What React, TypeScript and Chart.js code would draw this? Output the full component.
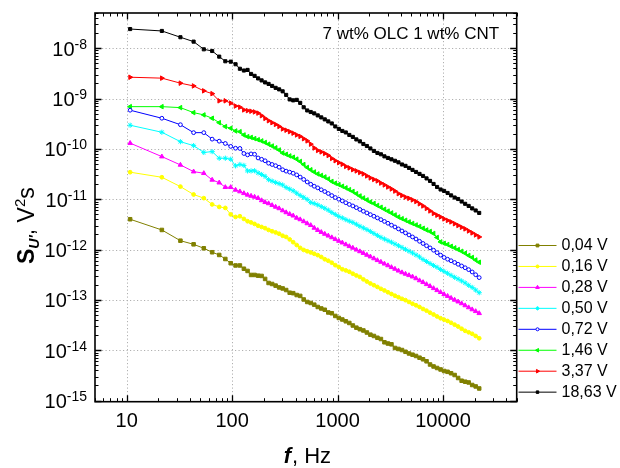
import { useEffect, useRef } from 'react';
import { Chart, registerables } from 'chart.js';
import { drawPoint } from 'chart.js/helpers';

Chart.register(...registerables);

const FONT = '"Liberation Sans", Arial, Helvetica, sans-serif';

// Frequencies, Hz
const frequencies = [
  10.77, 21.53, 32.3, 43.07, 53.83, 64.6, 75.37, 86.13, 96.9, 107.7, 118.4, 129.2, 140,
  151.1, 163.2, 176.2, 190.2, 205.4, 221.6, 239.3, 258.4, 279, 301.2, 325.3, 351.2, 379.2,
  409.4, 442, 477.1, 515.1, 556.2, 600.5, 648.4, 700.1, 755.8, 816, 881, 951.2, 1027, 1109,
  1197, 1292, 1395, 1507, 1627, 1756, 1896, 2047, 2210, 2386, 2576, 2782, 3003, 3243, 3501,
  3780, 4081, 4407, 4757, 5136, 5546, 5987, 6464, 6980, 7535, 8136, 8784, 9484, 10240, 11050,
  11930, 12890, 13910, 15020, 16220, 17510, 18910, 20410, 22040,
];

const s_0_04 = [
  4.0e-12, 2.45e-12, 1.5e-12, 1.27e-12, 1.06e-12, 8.84e-13, 7.81e-13, 6.5e-13, 5.35e-13, 4.83e-13, 4.83e-13, 4.16e-13, 3.76e-13,
  3.13e-13, 3.13e-13, 3.03e-13, 2.99e-13, 2.61e-13, 2.17e-13, 2.07e-13, 1.92e-13, 1.77e-13, 1.69e-13, 1.57e-13, 1.39e-13, 1.36e-13,
  1.25e-13, 1.2e-13, 1.02e-13, 9.1e-14, 8.69e-14, 8.04e-14, 7.24e-14, 6.76e-14, 6.37e-14, 5.63e-14, 5.43e-14, 4.8e-14, 4.38e-14,
  4.08e-14, 3.76e-14, 3.48e-14, 3.1e-14, 2.81e-14, 2.62e-14, 2.47e-14, 2.25e-14, 2.04e-14, 1.92e-14, 1.77e-14, 1.67e-14, 1.44e-14,
  1.36e-14, 1.31e-14, 1.11e-14, 1.06e-14, 1.01e-14, 9.32e-15, 8.63e-15, 8.16e-15, 7.69e-15, 7.11e-15, 6.61e-15, 6.03e-15, 5.21e-15,
  4.76e-15, 4.44e-15, 4.15e-15, 3.87e-15, 3.73e-15, 3.49e-15, 3.22e-15, 2.81e-15, 2.48e-15, 2.37e-15, 2.29e-15, 2.04e-15, 1.91e-15, 1.74e-15,
];

const s_0_16 = [
  3.44e-11, 2.73e-11, 1.78e-11, 1.24e-11, 1.05e-11, 7.88e-12, 7.03e-12, 6.71e-12, 4.99e-12, 4.44e-12, 4.59e-12, 4.06e-12, 3.65e-12,
  3.46e-12, 3.23e-12, 2.97e-12, 2.81e-12, 2.66e-12, 2.45e-12, 2.31e-12, 2.19e-12, 2.06e-12, 1.88e-12, 1.78e-12, 1.59e-12, 1.4e-12,
  1.23e-12, 1.08e-12, 9.82e-13, 9.25e-13, 8.75e-13, 8.25e-13, 7.74e-13, 7.13e-13, 6.42e-13, 5.99e-13, 5.47e-13, 4.9e-13, 4.51e-13,
  4.06e-13, 3.85e-13, 3.62e-13, 3.31e-13, 3.06e-13, 2.86e-13, 2.56e-13, 2.32e-13, 2.12e-13, 1.96e-13, 1.81e-13, 1.66e-13, 1.54e-13,
  1.42e-13, 1.31e-13, 1.21e-13, 1.13e-13, 1.05e-13, 9.88e-14, 9.1e-14, 8.38e-14, 7.82e-14, 7.23e-14, 6.6e-14, 6.11e-14, 5.57e-14,
  5.13e-14, 4.69e-14, 4.32e-14, 4.05e-14, 3.81e-14, 3.51e-14, 3.22e-14, 2.96e-14, 2.67e-14, 2.43e-14, 2.27e-14, 2.12e-14, 1.92e-14, 1.73e-14,
];

const s_0_28 = [
  1.3e-10, 7.02e-11, 4.8e-11, 3.53e-11, 3.28e-11, 2.42e-11, 2.13e-11, 1.73e-11, 1.73e-11, 1.53e-11, 1.42e-11, 1.31e-11, 1.22e-11,
  1.16e-11, 1.11e-11, 1.05e-11, 9.46e-12, 8.71e-12, 8.24e-12, 7.59e-12, 7.03e-12, 6.56e-12, 5.96e-12, 5.46e-12, 5.06e-12, 4.7e-12,
  4.25e-12, 3.96e-12, 3.62e-12, 3.3e-12, 3.04e-12, 2.69e-12, 2.43e-12, 2.22e-12, 2.04e-12, 1.88e-12, 1.74e-12, 1.6e-12, 1.48e-12,
  1.37e-12, 1.26e-12, 1.16e-12, 1.08e-12, 9.91e-13, 9.17e-13, 8.49e-13, 7.81e-13, 7.23e-13, 6.65e-13, 6.12e-13, 5.67e-13, 5.22e-13,
  4.83e-13, 4.45e-13, 4.12e-13, 3.79e-13, 3.51e-13, 3.28e-13, 3.08e-13, 2.89e-13, 2.67e-13, 2.43e-13, 2.24e-13, 2.04e-13, 1.87e-13,
  1.7e-13, 1.55e-13, 1.42e-13, 1.29e-13, 1.19e-13, 1.09e-13, 1.0e-13, 9.22e-14, 8.49e-14, 7.75e-14, 7.07e-14, 6.45e-14, 5.94e-14, 5.42e-14,
];

const s_0_50 = [
  2.95e-10, 2.14e-10, 1.39e-10, 1.16e-10, 8.5e-11, 8.82e-11, 6.52e-11, 6.52e-11, 6.23e-11, 4.6e-11, 4.9e-11, 4.69e-11, 3.65e-11,
  3.65e-11, 3.68e-11, 3.33e-11, 3.1e-11, 2.84e-11, 2.45e-11, 2.29e-11, 2.15e-11, 2.04e-11, 1.92e-11, 1.71e-11, 1.59e-11, 1.47e-11,
  1.32e-11, 1.19e-11, 1.09e-11, 9.9e-12, 8.63e-12, 8.24e-12, 7.7e-12, 7.12e-12, 6.62e-12, 6.07e-12, 5.46e-12, 4.99e-12, 4.55e-12,
  4.25e-12, 3.93e-12, 3.67e-12, 3.46e-12, 3.18e-12, 2.9e-12, 2.69e-12, 2.49e-12, 2.29e-12, 2.09e-12, 1.91e-12, 1.75e-12, 1.62e-12,
  1.5e-12, 1.4e-12, 1.29e-12, 1.19e-12, 1.1e-12, 1.01e-12, 9.3e-13, 8.56e-13, 7.81e-13, 7.13e-13, 6.35e-13, 5.8e-13, 5.29e-13,
  4.83e-13, 4.45e-13, 4.02e-13, 3.67e-13, 3.38e-13, 3.08e-13, 2.81e-13, 2.6e-13, 2.38e-13, 2.17e-13, 1.95e-13, 1.77e-13, 1.57e-13, 1.39e-13,
];

const s_0_72 = [
  5.86e-10, 4.06e-10, 3.02e-10, 2.1e-10, 2.1e-10, 1.56e-10, 1.42e-10, 1.28e-10, 1.12e-10, 1.03e-10, 1.02e-10, 8.1e-11, 7.59e-11,
  7.94e-11, 7.8e-11, 6.6e-11, 6.2e-11, 5.8e-11, 5.19e-11, 4.9e-11, 4.63e-11, 4.32e-11, 3.85e-11, 3.61e-11, 3.45e-11, 3.28e-11,
  3.04e-11, 2.75e-11, 2.47e-11, 2.2e-11, 1.98e-11, 1.81e-11, 1.68e-11, 1.54e-11, 1.42e-11, 1.3e-11, 1.18e-11, 1.08e-11, 1.0e-11,
  9.25e-12, 8.51e-12, 7.88e-12, 7.35e-12, 6.8e-12, 6.26e-12, 5.77e-12, 5.34e-12, 4.94e-12, 4.59e-12, 4.25e-12, 3.93e-12, 3.62e-12,
  3.33e-12, 3.05e-12, 2.81e-12, 2.57e-12, 2.34e-12, 2.14e-12, 1.95e-12, 1.78e-12, 1.62e-12, 1.46e-12, 1.32e-12, 1.19e-12, 1.08e-12,
  9.7e-13, 8.68e-13, 7.74e-13, 6.97e-13, 6.42e-13, 5.99e-13, 5.54e-13, 5.1e-13, 4.72e-13, 4.35e-13, 3.99e-13, 3.59e-13, 3.16e-13, 2.77e-13,
];

const s_1_46 = [
  6.9e-10, 6.9e-10, 6.6e-10, 5.25e-10, 4.73e-10, 4.06e-10, 3.32e-10, 2.77e-10, 2.57e-10, 2.27e-10, 2.2e-10, 1.89e-10, 1.75e-10,
  1.69e-10, 1.6e-10, 1.52e-10, 1.44e-10, 1.34e-10, 1.24e-10, 1.14e-10, 1.05e-10, 9.5e-11, 8.3e-11, 7.8e-11, 7.25e-11, 6.83e-11,
  6.26e-11, 5.63e-11, 4.9e-11, 4.28e-11, 3.85e-11, 3.48e-11, 3.18e-11, 2.97e-11, 2.77e-11, 2.53e-11, 2.26e-11, 2.08e-11, 1.95e-11,
  1.81e-11, 1.68e-11, 1.55e-11, 1.43e-11, 1.29e-11, 1.16e-11, 1.06e-11, 9.7e-12, 8.83e-12, 8.24e-12, 7.52e-12, 6.93e-12, 6.32e-12,
  5.8e-12, 5.34e-12, 4.87e-12, 4.44e-12, 4.11e-12, 3.82e-12, 3.54e-12, 3.3e-12, 3.08e-12, 2.88e-12, 2.65e-12, 2.45e-12, 2.29e-12,
  2.09e-12, 1.74e-12, 1.42e-12, 1.33e-12, 1.26e-12, 1.16e-12, 1.08e-12, 1.0e-12, 9.25e-13, 8.45e-13, 7.64e-13, 6.97e-13, 6.21e-13, 5.6e-13,
];

const s_3_37 = [
  2.65e-9, 2.54e-9, 2.02e-9, 1.78e-9, 1.42e-9, 1.25e-9, 9.0e-10, 9.0e-10, 8.1e-10, 7.1e-10, 6.73e-10, 5.94e-10, 5.75e-10,
  5.6e-10, 5.42e-10, 5.13e-10, 4.56e-10, 4.03e-10, 3.62e-10, 3.32e-10, 3.06e-10, 2.79e-10, 2.49e-10, 2.35e-10, 2.2e-10, 2.05e-10,
  1.89e-10, 1.77e-10, 1.59e-10, 1.44e-10, 1.24e-10, 1.04e-10, 9.3e-11, 8.7e-11, 8.1e-11, 7.4e-11, 6.46e-11, 5.82e-11, 5.33e-11,
  4.95e-11, 4.48e-11, 4.19e-11, 3.87e-11, 3.65e-11, 3.4e-11, 3.18e-11, 2.9e-11, 2.65e-11, 2.47e-11, 2.31e-11, 2.09e-11, 1.92e-11,
  1.75e-11, 1.6e-11, 1.45e-11, 1.29e-11, 1.19e-11, 1.1e-11, 1.04e-11, 9.7e-12, 9.0e-12, 8.1e-12, 7.35e-12, 6.56e-12, 5.85e-12,
  5.22e-12, 4.81e-12, 4.44e-12, 4.06e-12, 3.79e-12, 3.54e-12, 3.26e-12, 3.01e-12, 2.77e-12, 2.57e-12, 2.34e-12, 2.14e-12, 1.95e-12, 1.78e-12,
];

const s_18_63 = [
  2.4e-8, 2.2e-8, 1.65e-8, 1.35e-8, 9.5e-9, 8.8e-9, 6.8e-9, 5.5e-9, 5.4e-9, 4.8e-9, 3.9e-9, 3.6e-9, 3.7e-9,
  3.08e-9, 2.82e-9, 2.51e-9, 2.29e-9, 2.09e-9, 1.95e-9, 1.78e-9, 1.63e-9, 1.52e-9, 1.39e-9, 1.18e-9, 9.6e-10, 9.2e-10,
  9.4e-10, 8.2e-10, 6.7e-10, 5.8e-10, 5.4e-10, 5.06e-10, 4.62e-10, 4.22e-10, 3.85e-10, 3.51e-10, 3.2e-10, 2.79e-10, 2.49e-10,
  2.27e-10, 2.12e-10, 1.89e-10, 1.73e-10, 1.54e-10, 1.41e-10, 1.25e-10, 1.14e-10, 1.02e-10, 9.1e-11, 8.3e-11, 7.8e-11, 7.1e-11,
  6.6e-11, 6.2e-11, 5.8e-11, 5.4e-11, 4.9e-11, 4.6e-11, 4.19e-11, 3.82e-11, 3.48e-11, 3.18e-11, 2.9e-11, 2.59e-11, 2.31e-11,
  2.01e-11, 1.75e-11, 1.56e-11, 1.46e-11, 1.33e-11, 1.19e-11, 1.08e-11, 1.01e-11, 9.0e-12, 8.1e-12, 7.35e-12, 6.56e-12, 5.98e-12, 5.34e-12,
];

const seriesLabels = ['0,04 V', '0,16 V', '0,28 V', '0,50 V', '0,72 V', '1,46 V', '3,37 V', '18,63 V'];
const seriesValues = [s_0_04, s_0_16, s_0_28, s_0_50, s_0_72, s_1_46, s_3_37, s_18_63];

const xTickValues = [10, 100, 1000, 10000];
const xTickLabels = ['10', '100', '1000', '10000'];
const yTickValues = [1e-8, 1e-9, 1e-10, 1e-11, 1e-12, 1e-13, 1e-14, 1e-15];
const yTickExponents = ['-8', '-9', '-10', '-11', '-12', '-13', '-14', '-15'];
const chartTitle = '7 wt% OLC 1 wt% CNT';

const X_MIN = 5;
const X_MAX = 50000;
const Y_MIN = 9.5e-16;
const Y_MAX = 5e-8;

type Sty = { color: string; fill: string; pointStyle: string; radius: number; rotation: number };
const STYLES: Sty[] = [
  { color: '#808000', fill: '#808000', pointStyle: 'rect', radius: 2.5, rotation: 0 },
  { color: '#ffff00', fill: '#ffff00', pointStyle: 'circle', radius: 1.9, rotation: 0 },
  { color: '#ff00ff', fill: '#ff00ff', pointStyle: 'triangle', radius: 2.6, rotation: 0 },
  { color: '#00ffff', fill: '#00ffff', pointStyle: 'star', radius: 2.6, rotation: 0 },
  { color: '#0000ff', fill: '#ffffff', pointStyle: 'circle', radius: 1.9, rotation: 0 },
  { color: '#00ff00', fill: '#00ff00', pointStyle: 'triangle', radius: 2.6, rotation: -90 },
  { color: '#ff0000', fill: '#ff0000', pointStyle: 'triangle', radius: 2.6, rotation: 90 },
  { color: '#000000', fill: '#000000', pointStyle: 'rect', radius: 2.2, rotation: 0 },
];

function minorValues(minExp: number, maxExp: number, lo: number, hi: number) {
  const out: number[] = [];
  for (let e = minExp; e <= maxExp; e++) {
    for (let m = 2; m <= 9; m++) {
      const v = m * Math.pow(10, e);
      if (v >= lo * 0.9999 && v <= hi * 1.0001) out.push(v);
    }
  }
  return out;
}

const decorPlugin = {
  id: 'decor',
  beforeDatasetsDraw(chart: any) {
    const { ctx, chartArea: a } = chart;
    const xs = chart.scales.x;
    const ys = chart.scales.y;
    ctx.save();
    ctx.strokeStyle = '#b0b0b0';
    ctx.lineWidth = 1;
    ctx.setLineDash([1.2, 2.3]);
    ctx.beginPath();
    xTickValues.forEach((v) => {
      const p = Math.round(xs.getPixelForValue(v)) + 0.5;
      ctx.moveTo(p, a.top);
      ctx.lineTo(p, a.bottom);
    });
    yTickValues.forEach((v) => {
      const p = Math.round(ys.getPixelForValue(v)) + 0.5;
      ctx.moveTo(a.left, p);
      ctx.lineTo(a.right, p);
    });
    ctx.stroke();
    ctx.restore();
  },
  afterDraw(chart: any) {
    const { ctx, chartArea: a } = chart;
    const xs = chart.scales.x;
    const ys = chart.scales.y;
    ctx.save();
    ctx.setLineDash([]);
    ctx.strokeStyle = '#000';
    ctx.fillStyle = '#000';

    // ticks (inward on all sides)
    ctx.lineWidth = 1;
    ctx.beginPath();
    const xMinor = minorValues(0, 4, X_MIN, X_MAX);
    const yMinor = minorValues(-16, -8, Y_MIN, Y_MAX);
    const tickX = (v: number, len: number) => {
      const p = Math.round(xs.getPixelForValue(v)) + 0.5;
      ctx.moveTo(p, a.bottom);
      ctx.lineTo(p, a.bottom - len);
      ctx.moveTo(p, a.top);
      ctx.lineTo(p, a.top + len);
    };
    const tickY = (v: number, len: number) => {
      const p = Math.round(ys.getPixelForValue(v)) + 0.5;
      ctx.moveTo(a.left, p);
      ctx.lineTo(a.left + len, p);
      ctx.moveTo(a.right, p);
      ctx.lineTo(a.right - len, p);
    };
    xMinor.forEach((v) => tickX(v, 3.5));
    yMinor.forEach((v) => tickY(v, 3.5));
    ctx.stroke();
    ctx.lineWidth = 1.3;
    ctx.beginPath();
    xTickValues.forEach((v) => tickX(v, 6.5));
    yTickValues.forEach((v) => tickY(v, 6.5));
    ctx.stroke();

    // frame
    ctx.lineWidth = 1.6;
    ctx.strokeRect(a.left, a.top, a.right - a.left, a.bottom - a.top);

    // x tick labels
    ctx.font = `20px ${FONT}`;
    ctx.textAlign = 'center';
    ctx.textBaseline = 'alphabetic';
    xTickValues.forEach((v, i) => {
      ctx.fillText(xTickLabels[i], xs.getPixelForValue(v), a.bottom + 25.5);
    });

    // y tick labels: 10 with superscript exponent
    ctx.textAlign = 'left';
    yTickValues.forEach((v, i) => {
      const p = ys.getPixelForValue(v);
      ctx.font = `14px ${FONT}`;
      const w2 = ctx.measureText(yTickExponents[i]).width;
      ctx.font = `20px ${FONT}`;
      const w1 = ctx.measureText('10').width;
      const right = a.left - 8;
      ctx.fillText('10', right - w2 - w1, p + 7.5);
      ctx.font = `14px ${FONT}`;
      ctx.fillText(yTickExponents[i], right - w2, p + 0.5);
    });

    // inner title
    ctx.font = `17px ${FONT}`;
    ctx.textAlign = 'left';
    ctx.fillText(chartTitle, 322.5, 38.5);

    // x axis title: f, Hz
    {
      ctx.font = `italic bold 22px ${FONT}`;
      const wf = ctx.measureText('f').width;
      ctx.font = `22px ${FONT}`;
      const wr = ctx.measureText(', Hz').width;
      const cx = (a.left + a.right) / 2 + 1;
      const start = cx - (wf + wr) / 2;
      ctx.font = `italic bold 22px ${FONT}`;
      ctx.fillText('f', start, 463);
      ctx.font = `22px ${FONT}`;
      ctx.fillText(', Hz', start + wf + 1, 463);
    }

    // y axis title: S_U', V^2s (rotated)
    {
      ctx.save();
      ctx.translate(33.5, 264);
      ctx.rotate(-Math.PI / 2);
      let x = 0;
      const put = (t: string, font: string, dy: number) => {
        ctx.font = font;
        ctx.fillText(t, x, dy);
        x += ctx.measureText(t).width;
      };
      put('S', `bold 23px ${FONT}`, 0);
      put("U'", `italic bold 14px ${FONT}`, 5);
      put(', V', `23px ${FONT}`, 0);
      put('2', `15px ${FONT}`, -9);
      put('s', `23px ${FONT}`, 0);
      ctx.restore();
    }

    // legend
    const lx0 = 518.5;
    const lx1 = 556.5;
    const ly0 = 245;
    const lstep = 20.95;
    seriesLabels.forEach((lab, i) => {
      const st = STYLES[i];
      const y = ly0 + i * lstep;
      ctx.setLineDash([]);
      ctx.strokeStyle = st.color;
      ctx.lineWidth = 1;
      ctx.beginPath();
      ctx.moveTo(lx0, y + 0.5);
      ctx.lineTo(lx1, y + 0.5);
      ctx.stroke();
      ctx.fillStyle = st.fill;
      ctx.strokeStyle = st.color;
      drawPoint(ctx, { pointStyle: st.pointStyle as any, rotation: st.rotation, radius: st.radius * 0.8, borderWidth: 1 } as any, (lx0 + lx1) / 2, y + 0.5);
      ctx.fillStyle = '#000';
      ctx.font = `16px ${FONT}`;
      ctx.textAlign = 'left';
      ctx.textBaseline = 'middle';
      ctx.fillText(lab, 561.5, y + 1);
      ctx.textBaseline = 'alphabetic';
    });

    ctx.restore();
  },
};

export default function App() {
  const ref = useRef<HTMLCanvasElement | null>(null);
  useEffect(() => {
    if (!ref.current) return;
    Chart.defaults.font.family = FONT;
    const datasets = seriesValues.map((vals, i) => {
      const st = STYLES[i];
      return {
        label: seriesLabels[i],
        data: frequencies.map((f, j) => ({ x: f, y: vals[j] })),
        borderColor: st.color,
        backgroundColor: st.fill,
        borderWidth: 1,
        pointStyle: st.pointStyle as any,
        pointRadius: st.radius,
        pointRotation: st.rotation,
        pointBorderWidth: 1,
        pointBorderColor: st.color,
        pointBackgroundColor: st.fill,
        pointHoverRadius: st.radius,
        tension: 0,
        fill: false,
      };
    });
    const chart = new Chart(ref.current, {
      type: 'line',
      data: { datasets },
      options: {
        animation: false,
        responsive: false,
        devicePixelRatio: 1,
        events: [],
        layout: { padding: { left: 95, top: 13, right: 103.3, bottom: 66.3 } },
        plugins: { legend: { display: false }, tooltip: { enabled: false }, title: { display: false } },
        scales: {
          x: { type: 'logarithmic', min: X_MIN, max: X_MAX, display: false, bounds: 'data' },
          y: { type: 'logarithmic', min: Y_MIN, max: Y_MAX, display: false, bounds: 'data' },
        },
      } as any,
      plugins: [decorPlugin],
    });
    return () => chart.destroy();
  }, []);
  return (
    <div style={{ position: 'absolute', left: 0, top: 0, width: 620, height: 468, background: '#ffffff' }}>
      <canvas ref={ref} width={620} height={468} style={{ display: 'block', width: 620, height: 468 }} />
    </div>
  );
}
